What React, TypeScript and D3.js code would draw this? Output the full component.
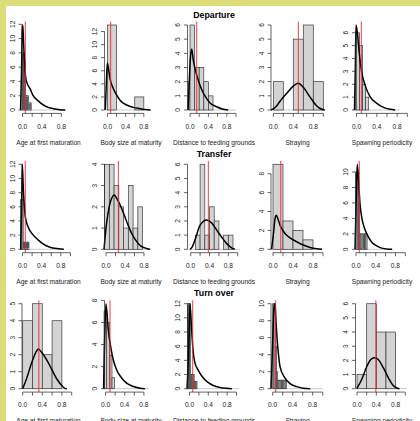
import * as d3 from "d3";
import React from "react";

type Pt = [number, number];

const stages = ["Departure", "Transfer", "Turn over"];
const traits = [
  "Age at first maturation",
  "Body size at maturity",
  "Distance to feeding grounds",
  "Straying",
  "Spawning periodicity",
];

// ---- Departure ----
const departureBreaks = [
  [0, 0.02, 0.04, 0.06, 0.08, 0.1, 0.12, 0.14, 0.16, 0.18],
  [0, 0.2, 0.4, 0.6, 0.8],
  [-0.04, 0, 0.1, 0.2, 0.3, 0.4, 0.5],
  [0, 0.2, 0.4, 0.6, 0.8, 1],
  [0, 0.06, 0.12, 0.18, 0.24],
];
const departureCounts = [
  [8, 8, 7, 2, 2, 2, 0, 1, 1],
  [13, 0, 0, 2],
  [2, 6, 3, 3, 2, 1],
  [2, 0, 5, 6, 2],
  [6, 5, 2, 1],
];
const departureDensity: Pt[][] = [
  [[-0.04, 0], [-0.02, 5.5], [-0.005, 11.2], [0.006, 11.9], [0.022, 9.5], [0.04, 7], [0.062, 4.8], [0.093, 3.8], [0.155, 3.0], [0.22, 2.0], [0.33, 1.25], [0.43, 0.7], [0.53, 0.37], [0.64, 0.18], [0.77, 0.05], [0.88, 0]],
  [[-0.048, 0], [-0.026, 4.0], [-0.004, 7.2], [0.018, 6.5], [0.055, 4.8], [0.128, 3.3], [0.2, 2.3], [0.275, 1.5], [0.42, 0.76], [0.57, 0.4], [0.72, 0.2], [0.83, 0.06], [0.95, 0]],
  [[-0.043, 0], [-0.022, 1.5], [0.007, 3.6], [0.037, 4.3], [0.072, 3.5], [0.146, 2.45], [0.217, 1.75], [0.29, 1.2], [0.363, 0.8], [0.435, 0.5], [0.58, 0.23], [0.7, 0.07], [0.83, 0]],
  [[-0.05, 0], [0, 0.08], [0.07, 0.3], [0.13, 0.6], [0.27, 1.18], [0.4, 1.69], [0.5, 1.88], [0.6, 1.6], [0.73, 0.94], [0.87, 0.28], [0.97, 0.05], [1.03, 0]],
  [[-0.04, 0], [-0.024, 3], [-0.01, 6.6], [0.016, 6.0], [0.055, 4.4], [0.1, 3.0], [0.167, 1.95], [0.266, 1.04], [0.4, 0.52], [0.53, 0.2], [0.66, 0.05], [0.76, 0]],
];
const departureObserved = [0.058, 0.07, 0.146, 0.5, 0.095];
const departureZero = [[-0.04, 0.92], [-0.05, 0.9], [-0.04, 1.0], [-0.05, 1.03], [-0.04, 0.85]];

// ---- Transfer ----
const transferBreaks = [
  [-0.04, 0.015, 0.03, 0.045, 0.06, 0.075, 0.09, 0.105, 0.12, 0.135],
  [-0.03, 0.07, 0.17, 0.27, 0.37, 0.47, 0.57, 0.67, 0.77],
  [0.1, 0.2, 0.3, 0.4, 0.5, 0.6, 0.7, 0.8, 0.9],
  [0, 0.2, 0.4, 0.6, 0.8],
  [0, 0.025, 0.05, 0.075, 0.1, 0.125, 0.15, 0.175, 0.2, 0.225],
];
const transferCounts = [
  [7, 1, 1, 1, 1, 1, 1, 1, 1],
  [4, 4, 3, 2, 1, 3, 1, 2],
  [1, 6, 1, 3, 2, 0, 1, 1],
  [9, 3, 2, 1],
  [10, 10, 6, 2, 2, 2, 2, 2, 2],
];
const transferDensity: Pt[][] = [
  [[-0.037, 0], [-0.02, 5], [-0.004, 12], [0.017, 8.5], [0.037, 6.2], [0.058, 4.6], [0.12, 3.1], [0.225, 2.0], [0.33, 1.3], [0.43, 0.75], [0.57, 0.28], [0.75, 0.07], [0.86, 0]],
  [[-0.042, 0], [0, 1.0], [0.048, 1.77], [0.12, 2.4], [0.168, 2.55], [0.238, 2.35], [0.33, 1.92], [0.436, 1.3], [0.54, 0.75], [0.646, 0.36], [0.737, 0.15], [0.857, 0.04], [0.93, 0]],
  [[-0.015, 0], [0.03, 0.15], [0.09, 0.65], [0.2, 1.7], [0.34, 2.07], [0.447, 1.85], [0.553, 1.36], [0.66, 0.85], [0.766, 0.4], [0.87, 0.1], [0.94, 0]],
  [[-0.03, 0], [0.006, 1.5], [0.04, 3.2], [0.066, 3.6], [0.1, 3.2], [0.14, 2.56], [0.24, 1.68], [0.34, 1.22], [0.474, 0.8], [0.606, 0.45], [0.74, 0.2], [0.874, 0.05], [0.98, 0]],
  [[-0.02, 0], [0.006, 7], [0.026, 11], [0.055, 8.5], [0.081, 5.9], [0.12, 4.0], [0.18, 2.6], [0.25, 1.6], [0.32, 0.9], [0.42, 0.43], [0.52, 0.15], [0.65, 0.02], [0.73, 0]],
];
const transferObserved = [0.058, 0.26, 0.375, 0.155, 0.067];
const transferZero = [[-0.04, 0.86], [-0.04, 0.9], [-0.05, 1.05], [-0.03, 0.97], [-0.02, 0.76]];

// ---- Turn over ----
const turnOverBreaks = [
  [0, 0.2, 0.4, 0.6, 0.8],
  [-0.03, 0.025, 0.08, 0.135, 0.19],
  [-0.04, -0.02, 0, 0.02, 0.04, 0.06, 0.08, 0.1, 0.12, 0.14, 0.16],
  [0, 0.025, 0.05, 0.075, 0.1, 0.125, 0.15, 0.175, 0.2, 0.225, 0.25, 0.275],
  [0, 0.2, 0.4, 0.6, 0.8],
];
const turnOverCounts = [
  [4, 5, 2, 4],
  [7, 6, 3, 1],
  [12, 12, 12, 2, 2, 1, 2, 1, 1, 1],
  [10, 10, 5, 2, 1, 1, 1, 1, 1, 1, 1],
  [1, 6, 4, 4],
];
const turnOverDensity: Pt[][] = [
  [[0, 0], [0.08, 0.6], [0.18, 1.5], [0.29, 2.25], [0.32, 2.33], [0.39, 2.13], [0.49, 1.7], [0.59, 1.15], [0.69, 0.6], [0.8, 0.18], [0.86, 0.02], [0.9, 0]],
  [[-0.04, 0], [-0.02, 4], [0.01, 7.7], [0.058, 5.3], [0.108, 3.8], [0.163, 2.6], [0.233, 1.7], [0.34, 0.95], [0.44, 0.5], [0.58, 0.2], [0.72, 0.05], [0.82, 0]],
  [[-0.053, 0], [-0.02, 5], [0.01, 12], [0.04, 9], [0.068, 6], [0.117, 3.6], [0.187, 2.6], [0.29, 1.55], [0.4, 0.85], [0.506, 0.46], [0.65, 0.18], [0.79, 0.05], [0.9, 0]],
  [[-0.034, 0], [-0.004, 5], [0.026, 9.5], [0.046, 10], [0.066, 8], [0.086, 6], [0.116, 4], [0.146, 2.6], [0.246, 1.25], [0.346, 0.6], [0.48, 0.24], [0.61, 0.05], [0.75, 0]],
  [[-0.006, 0], [0.097, 0.65], [0.2, 1.55], [0.3, 2.1], [0.37, 2.18], [0.44, 2.06], [0.545, 1.48], [0.65, 0.77], [0.75, 0.23], [0.82, 0.05], [0.88, 0]],
];
const turnOverObserved = [0.33, 0.094, 0.068, 0.06, 0.39];
const turnOverZero = [[0, 0.9], [-0.04, 0.9], [-0.05, 1.05], [-0.03, 1.0], [0, 1.03]];

const breaksByRow = [departureBreaks, transferBreaks, turnOverBreaks];
const countsByRow = [departureCounts, transferCounts, turnOverCounts];
const densityByRow = [departureDensity, transferDensity, turnOverDensity];
const observedByRow = [departureObserved, transferObserved, turnOverObserved];
const zeroByRow = [departureZero, transferZero, turnOverZero];

// ---- layout ----
const W = 420;
const H = 421;
const colLeft = [22, 104.5, 187.5, 271, 355.5];
const rowZero = [110, 249.3, 388.7];
const plotW = 53;
const dataH = 85;
const pad = 3.4;
// pixel of x = 0 and pixels per unit, for each panel
const xOrigin = [
  [22.5, 107.5, 190, 273.3, 356.5],
  [22.5, 106, 190.7, 273, 356],
  [22.7, 105.5, 189.5, 272.7, 357],
];
const xUnit = [
  [48.5, 45.4, 46, 50, 50.8],
  [48, 47.5, 47, 50, 49.3],
  [49, 48, 47, 50, 48.3],
];
const xLast = [
  [0.8, 0.8, 1, 1, 1],
  [1, 0.8, 1, 1, 1],
  [1, 0.8, 1, 1, 1],
];
const frameColor = "#dadd78";
const ink = "#222";
const fontSize = 6.6;
const fmt = d3.format(".1f");

function Panel({ r, c }: { r: number; c: number }) {
  const left = colLeft[c];
  const y0 = rowZero[r];
  const breaks = breaksByRow[r][c];
  const counts = countsByRow[r][c];
  const dens = densityByRow[r][c];
  const zero = zeroByRow[r][c];

  const x = d3
    .scaleLinear()
    .domain([0, 1])
    .range([xOrigin[r][c], xOrigin[r][c] + xUnit[r][c]]);
  const ymax = Math.max(d3.max(counts) as number, d3.max(dens, (d) => d[1]) as number);
  const y = d3.scaleLinear().domain([0, ymax]).range([y0, y0 - dataH]);

  const yTicks = d3.ticks(0, ymax * 1.04, 5);
  const xTicks = d3.range(0, xLast[r][c] + 0.001, 0.2);
  const line = d3
    .line<Pt>()
    .x((d) => x(d[0]))
    .y((d) => y(d[1]))
    .curve(d3.curveMonotoneX);

  const top = y0 - dataH - pad;
  const bottom = y0 + pad;
  const red = x(observedByRow[r][c]);
  const cx = left + plotW / 2;

  return (
    <g>
      <line x1={x(zero[0])} x2={x(zero[1])} y1={y0} y2={y0} stroke="#c8c8c8" strokeWidth={1} />
      {counts.map((n, i) =>
        n > 0 ? (
          <rect
            key={i}
            x={x(breaks[i])}
            y={y(n)}
            width={x(breaks[i + 1]) - x(breaks[i])}
            height={y0 - y(n)}
            fill="#d3d3d3"
            stroke="#3a3a3a"
            strokeWidth={0.7}
          />
        ) : null
      )}
      <path d={line(dens) || ""} fill="none" stroke="#000" strokeWidth={1.5} strokeLinejoin="round" />
      <line x1={red} x2={red} y1={top} y2={bottom} stroke="#f02828" strokeWidth={0.9} />

      {/* x axis */}
      <line x1={x(0)} x2={x(xLast[r][c])} y1={bottom} y2={bottom} stroke={ink} strokeWidth={0.7} />
      {xTicks.map((t, i) => (
        <g key={i}>
          <line x1={x(t)} x2={x(t)} y1={bottom} y2={bottom + 3.5} stroke={ink} strokeWidth={0.7} />
          {i % 2 === 0 && (
            <text x={x(t)} y={y0 + 16} fontSize={fontSize} textAnchor="middle" dominantBaseline="central" fill={ink}>
              {fmt(t)}
            </text>
          )}
        </g>
      ))}

      {/* y axis */}
      <line x1={left} x2={left} y1={y(0)} y2={y(yTicks[yTicks.length - 1])} stroke={ink} strokeWidth={0.7} />
      {yTicks.map((t, i) => (
        <g key={i}>
          <line x1={left - 3.5} x2={left} y1={y(t)} y2={y(t)} stroke={ink} strokeWidth={0.7} />
          <text
            transform={`translate(${left - 10},${y(t)}) rotate(-90)`}
            fontSize={fontSize}
            textAnchor="middle"
            dominantBaseline="central"
            fill={ink}
          >
            {t}
          </text>
        </g>
      ))}

      <text x={cx} y={y0 + 32} fontSize={fontSize} textAnchor="middle" dominantBaseline="central" fill={ink}>
        {traits[c]}
      </text>
      {c === 2 && (
        <text x={cx} y={y0 - 95.5} fontSize={8.8} fontWeight="bold" textAnchor="middle" dominantBaseline="central" fill="#000">
          {stages[r]}
        </text>
      )}
    </g>
  );
}

export default function App() {
  return (
    <svg
      width={W}
      height={H}
      style={{ position: "absolute", left: 0, top: 0 }}
      fontFamily="'Liberation Sans', Arial, Helvetica, sans-serif"
    >
      <rect width={W} height={H} fill="#fff" />
      {stages.map((s, r) => traits.map((t, c) => <Panel key={`${s}-${t}`} r={r} c={c} />))}
      <rect x={0} y={0} width={W} height={6} fill={frameColor} />
      <rect x={0} y={0} width={6} height={H} fill={frameColor} />
    </svg>
  );
}
